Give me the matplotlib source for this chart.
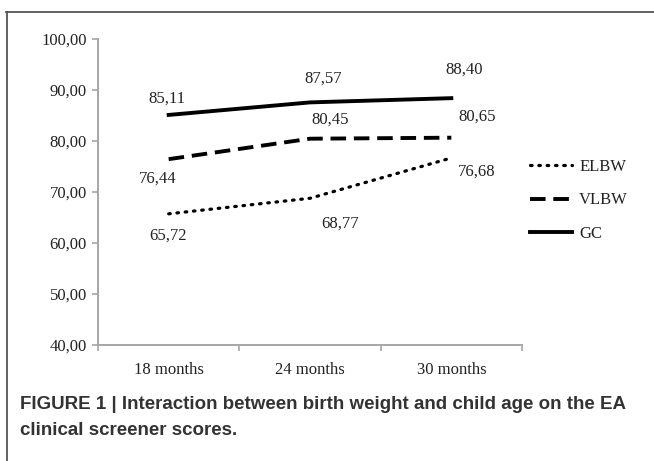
import matplotlib
matplotlib.use("Agg")
import matplotlib.pyplot as plt
from matplotlib.lines import Line2D

# data
ages = ["18 months", "24 months", "30 months"]
elbw = [65.72, 68.77, 76.68]
vlbw = [76.44, 80.45, 80.65]
gc = [85.11, 87.57, 88.40]
y_ticks = [40, 50, 60, 70, 80, 90, 100]

serif = "Liberation Serif"
dpi = 100
fig = plt.figure(figsize=(6.54, 4.61), dpi=dpi)
ax = fig.add_axes([98/654, 1-345/461, (522-98)/654, (345-39)/461])

x = list(range(len(ages)))
ax.plot(x, elbw, color="black", lw=2.3, linestyle=(0, (0.5, 2.1)),
        dash_capstyle="round", label="ELBW")
ax.plot(x, vlbw, color="black", lw=2.8, linestyle=(0, (4.0, 2.0)), label="VLBW")
ax.plot(x, gc, color="black", lw=2.8, label="GC")

# value labels (offsets in pixels)
offsets = {
    "ELBW": [(-1, -22), (30, -25), (25, -14)],
    "VLBW": [(-11, -19), (20, 19), (26, 21)],
    "GC": [(-2, 16), (13, 24), (13, 29)],
}
for name, vals in [("ELBW", elbw), ("VLBW", vlbw), ("GC", gc)]:
    for i, v in enumerate(vals):
        dx, dy = offsets[name][i]
        ax.annotate(f"{v:.2f}".replace(".", ","), (i, v), xytext=(dx, dy),
                    textcoords="offset pixels", ha="center", va="center",
                    fontsize=12, family=serif, color="#222222")

ax.set_xlim(-0.5, 2.5)
ax.set_ylim(40, 100)
ax.set_yticks(y_ticks)
ax.set_yticklabels([f"{t:.2f}".replace(".", ",") for t in y_ticks],
                   family=serif, fontsize=12, color="#222222")
ax.set_xticks(x)
ax.set_xticklabels(ages, family=serif, fontsize=12, color="#222222")
ax.set_xticks([-0.5, 0.5, 1.5, 2.5], minor=True)
ax.tick_params(axis="x", which="major", length=0, pad=12)
ax.tick_params(axis="x", which="minor", length=4, width=1.2, color="#a6a6a6")
ax.tick_params(axis="y", length=4, width=1.2, color="#a6a6a6", pad=4)
for s in ["top", "right"]:
    ax.spines[s].set_visible(False)
for s in ["left", "bottom"]:
    ax.spines[s].set_color("#a6a6a6")
    ax.spines[s].set_linewidth(1.4)

leg = fig.legend(loc="upper left", bbox_to_anchor=(515/654, 1-144/461),
                 frameon=False, handlelength=2.5, handletextpad=0.45,
                 labelspacing=1.05, prop={"family": serif, "size": 12})
for t in leg.get_texts():
    t.set_color("#222222")

# outer frame of the figure panel
fig.add_artist(Line2D([6/654, 1], [1-12/461, 1-12/461], color="#555555", lw=1.3))
fig.add_artist(Line2D([7/654, 7/654], [0, 1-12/461], color="#555555", lw=1.3))

fig.text(20/654, 1-404/461,
         "FIGURE 1 | Interaction between birth weight and child age on the EA",
         family="Liberation Sans", weight="bold", fontsize=13.5, color="#333333",
         va="center", ha="left")
fig.text(20/654, 1-430/461, "clinical screener scores.",
         family="Liberation Sans", weight="bold", fontsize=13.5, color="#333333",
         va="center", ha="left")

fig.savefig("out.png", dpi=dpi)
